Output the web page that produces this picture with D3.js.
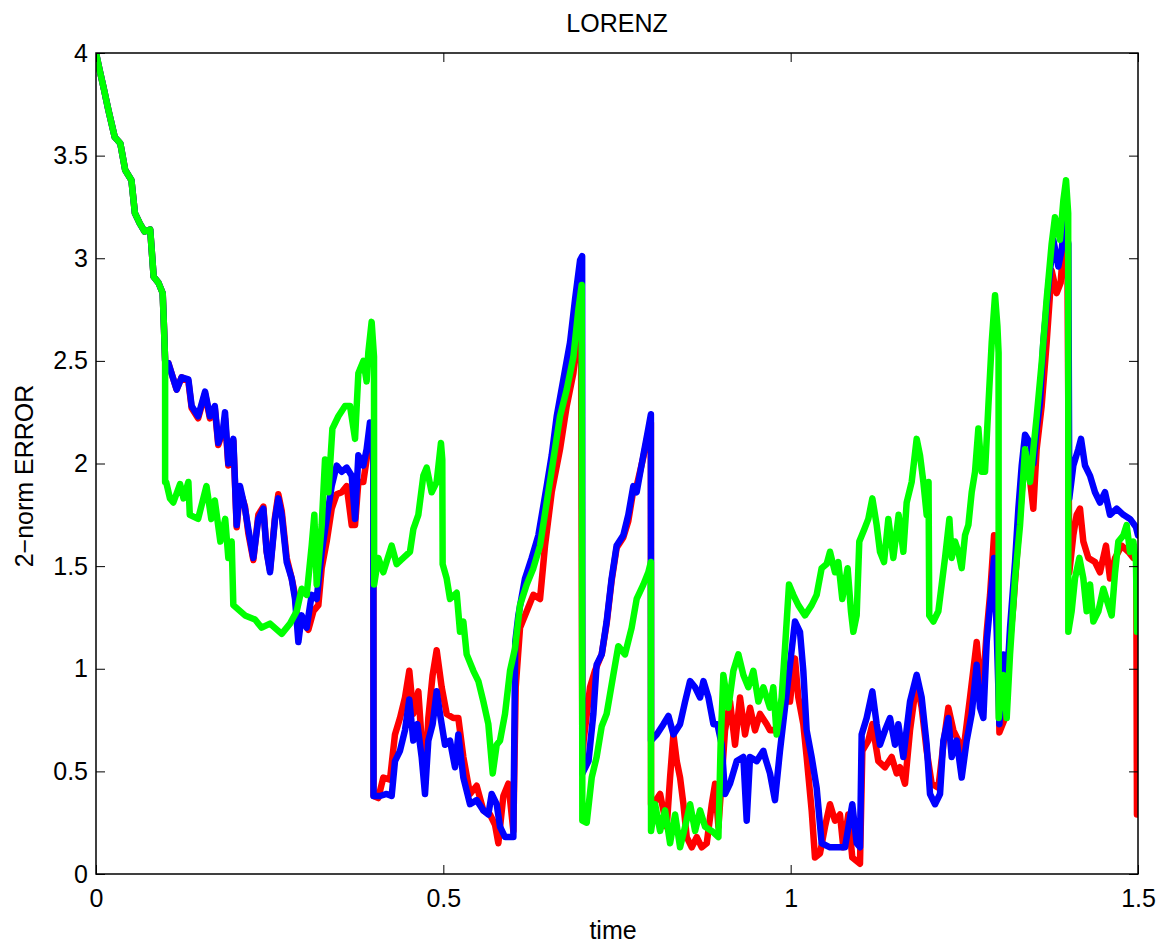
<!DOCTYPE html>
<html>
<head>
<meta charset="utf-8">
<script src="https://cdn.jsdelivr.net/npm/d3@7"></script>
<style>
  body { margin: 0; background: #fff; }
  svg text { font-family: "Liberation Sans", Arial, Helvetica, sans-serif; fill: #000; }
</style>
</head>
<body>
<svg id="chart" width="1173" height="944"></svg>
<script>
// shared start (all three series coincide until t = 0.1)
const decayT = [0, 0.005, 0.011, 0.018, 0.027, 0.035, 0.042, 0.051, 0.056, 0.063, 0.07, 0.078, 0.083, 0.09, 0.096, 0.098, 0.0995];
const decayV = [4.0, 3.92, 3.83, 3.72, 3.59, 3.56, 3.43, 3.38, 3.22, 3.17, 3.13, 3.14, 2.91, 2.88, 2.83, 2.65, 2.5];

const blueT = [0.1041, 0.1161, 0.1233, 0.133, 0.1377, 0.147, 0.157, 0.164, 0.171, 0.176, 0.183, 0.1857, 0.1905, 0.1977, 0.2025, 0.2073, 0.2145, 0.2193, 0.2265, 0.2337, 0.2409, 0.2457, 0.2505, 0.2577, 0.2625, 0.2673, 0.2745, 0.2817, 0.2865, 0.2913, 0.2961, 0.3033, 0.3105, 0.3177, 0.3249, 0.3321, 0.3393, 0.3465, 0.3537, 0.3609, 0.3681, 0.3729, 0.3777, 0.3848, 0.3896, 0.3944, 0.3992, 0.3995, 0.4088, 0.4184, 0.4256, 0.4304, 0.4376, 0.4448, 0.451, 0.4568, 0.4626, 0.4688, 0.4736, 0.4784, 0.4846, 0.4904, 0.4952, 0.5024, 0.5096, 0.5168, 0.5216, 0.5288, 0.5384, 0.548, 0.5576, 0.5648, 0.5696, 0.5768, 0.5816, 0.5888, 0.6008, 0.6022, 0.6035, 0.608, 0.6176, 0.6272, 0.6368, 0.6488, 0.656, 0.6632, 0.6728, 0.6824, 0.6896, 0.6968, 0.6998, 0.7001, 0.709, 0.716, 0.7207, 0.728, 0.7351, 0.7423, 0.7495, 0.7591, 0.7663, 0.7735, 0.7783, 0.7879, 0.7951, 0.7988, 0.799, 0.8072, 0.8168, 0.824, 0.8312, 0.8408, 0.848, 0.8552, 0.8624, 0.8696, 0.8744, 0.8816, 0.8888, 0.8945, 0.9007, 0.9055, 0.9127, 0.9223, 0.9319, 0.9367, 0.9415, 0.9511, 0.9607, 0.963, 0.9702, 0.9774, 0.9846, 0.9918, 0.999, 1.0062, 1.0134, 1.0182, 1.023, 1.0302, 1.0374, 1.0446, 1.0566, 1.0686, 1.0782, 1.0887, 1.095, 1.0998, 1.1022, 1.1094, 1.1176, 1.1238, 1.1286, 1.1358, 1.143, 1.1502, 1.155, 1.1622, 1.1718, 1.1814, 1.1886, 1.1958, 1.2006, 1.2078, 1.215, 1.2198, 1.227, 1.2318, 1.239, 1.2462, 1.2534, 1.2606, 1.2678, 1.2726, 1.2774, 1.2822, 1.287, 1.2928, 1.2966, 1.3005, 1.3062, 1.311, 1.3158, 1.323, 1.3278, 1.3326, 1.3374, 1.3446, 1.3494, 1.3542, 1.3589, 1.3637, 1.3709, 1.3781, 1.3853, 1.3901, 1.394, 1.3997, 1.4011, 1.4069, 1.4141, 1.418, 1.4237, 1.431, 1.4381, 1.4453, 1.4525, 1.4597, 1.4693, 1.479, 1.4885, 1.4971, 1.5];
const blueV = [2.49, 2.36, 2.42, 2.41, 2.28, 2.23, 2.35, 2.23, 2.28, 2.10, 2.17, 2.25, 2.0, 2.12, 1.70, 1.89, 1.78, 1.68, 1.54, 1.73, 1.78, 1.57, 1.47, 1.73, 1.83, 1.75, 1.52, 1.44, 1.34, 1.13, 1.26, 1.20, 1.36, 1.34, 1.57, 1.73, 1.89, 1.99, 1.96, 1.98, 1.94, 1.73, 2.04, 1.99, 2.07, 2.20, 2.02, 0.38, 0.38, 0.39, 0.38, 0.55, 0.60, 0.70, 0.85, 0.65, 0.73, 0.57, 0.39, 0.65, 0.73, 0.89, 0.78, 0.63, 0.65, 0.52, 0.68, 0.47, 0.34, 0.36, 0.31, 0.29, 0.39, 0.34, 0.23, 0.18, 0.18, 0.68, 1.13, 1.26, 1.44, 1.54, 1.65, 1.89, 2.04, 2.23, 2.41, 2.59, 2.80, 2.99, 3.01, 0.49, 0.55, 0.78, 1.02, 1.07, 1.23, 1.44, 1.60, 1.65, 1.75, 1.89, 1.86, 2.04, 2.17, 2.24, 0.65, 0.68, 0.73, 0.77, 0.68, 0.73, 0.84, 0.94, 0.91, 0.86, 0.94, 0.86, 0.73, 0.73, 0.63, 0.39, 0.44, 0.55, 0.57, 0.26, 0.57, 0.55, 0.60, 0.57, 0.49, 0.36, 0.60, 0.81, 1.02, 1.23, 1.18, 0.99, 0.70, 0.57, 0.42, 0.15, 0.13, 0.13, 0.13, 0.34, 0.15, 0.13, 0.68, 0.76, 0.89, 0.73, 0.63, 0.70, 0.76, 0.63, 0.73, 0.57, 0.84, 0.97, 0.86, 0.63, 0.39, 0.34, 0.39, 0.65, 0.76, 0.57, 0.65, 0.47, 0.65, 0.78, 1.02, 0.81, 0.76, 1.13, 1.31, 1.54, 1.18, 0.73, 1.07, 0.91, 1.20, 1.52, 1.78, 1.99, 2.14, 2.10, 2.0, 2.17, 2.30, 2.59, 2.86, 3.09, 2.96, 3.04, 3.17, 3.07, 1.83, 1.99, 2.07, 2.12, 1.99, 1.94, 1.86, 1.81, 1.86, 1.75, 1.78, 1.75, 1.73, 1.69, 1.65];

const redT = [0.1041, 0.1161, 0.1233, 0.133, 0.1377, 0.147, 0.157, 0.164, 0.171, 0.176, 0.183, 0.1857, 0.1905, 0.1977, 0.2025, 0.2073, 0.2145, 0.2193, 0.2265, 0.2337, 0.2409, 0.2457, 0.2505, 0.2577, 0.2625, 0.2673, 0.2745, 0.2817, 0.2865, 0.2913, 0.2985, 0.3057, 0.3129, 0.3201, 0.3249, 0.3321, 0.3393, 0.3465, 0.3537, 0.3609, 0.3681, 0.3729, 0.3777, 0.3848, 0.3896, 0.3944, 0.3992, 0.3995, 0.4064, 0.4136, 0.4232, 0.4304, 0.4376, 0.4448, 0.451, 0.4568, 0.464, 0.4688, 0.4736, 0.4784, 0.4846, 0.4904, 0.4976, 0.5048, 0.5144, 0.5216, 0.5288, 0.5384, 0.548, 0.5576, 0.5672, 0.5744, 0.5792, 0.5864, 0.5936, 0.6008, 0.6042, 0.6104, 0.62, 0.6296, 0.6392, 0.6464, 0.656, 0.668, 0.6776, 0.6872, 0.6944, 0.6982, 0.7001, 0.702, 0.7112, 0.7183, 0.728, 0.7351, 0.7423, 0.7495, 0.7591, 0.7663, 0.7735, 0.7783, 0.7879, 0.7951, 0.7988, 0.799, 0.8024, 0.812, 0.8216, 0.8264, 0.8312, 0.836, 0.8408, 0.8456, 0.8504, 0.8576, 0.8648, 0.872, 0.8792, 0.8864, 0.8912, 0.896, 0.8993, 0.9055, 0.9127, 0.9199, 0.9271, 0.9343, 0.9415, 0.9487, 0.9559, 0.9655, 0.9702, 0.9774, 0.9846, 0.9918, 0.999, 1.0062, 1.011, 1.0182, 1.023, 1.0302, 1.035, 1.0422, 1.0494, 1.0566, 1.0638, 1.071, 1.0758, 1.083, 1.0887, 1.0998, 1.1032, 1.1118, 1.1176, 1.1262, 1.1358, 1.1454, 1.1526, 1.1574, 1.1646, 1.1718, 1.1814, 1.1886, 1.1958, 1.203, 1.2126, 1.2198, 1.227, 1.2342, 1.2414, 1.2486, 1.2582, 1.2678, 1.275, 1.2822, 1.287, 1.2928, 1.2976, 1.3005, 1.3086, 1.3134, 1.3206, 1.3278, 1.335, 1.3422, 1.3493, 1.3541, 1.3613, 1.3685, 1.3757, 1.3829, 1.3886, 1.394, 1.3983, 1.4011, 1.4069, 1.4117, 1.4165, 1.4213, 1.4285, 1.4381, 1.4453, 1.4539, 1.4597, 1.467, 1.4765, 1.4861, 1.4933, 1.4975, 1.4985];
const redV = [2.49, 2.36, 2.42, 2.40, 2.27, 2.22, 2.34, 2.22, 2.27, 2.09, 2.16, 2.22, 1.99, 2.11, 1.69, 1.87, 1.79, 1.66, 1.53, 1.75, 1.79, 1.57, 1.48, 1.74, 1.85, 1.77, 1.54, 1.44, 1.36, 1.20, 1.23, 1.19, 1.28, 1.31, 1.49, 1.62, 1.78, 1.85, 1.86, 1.89, 1.70, 1.70, 1.91, 1.91, 2.02, 2.15, 2.04, 0.38, 0.37, 0.47, 0.46, 0.68, 0.76, 0.86, 0.99, 0.78, 0.89, 0.65, 0.44, 0.76, 0.97, 1.09, 0.91, 0.78, 0.76, 0.76, 0.57, 0.39, 0.43, 0.31, 0.29, 0.24, 0.15, 0.38, 0.44, 0.21, 0.91, 1.20, 1.28, 1.36, 1.34, 1.60, 1.86, 2.07, 2.28, 2.44, 2.65, 2.67, 0.55, 0.65, 0.91, 0.99, 1.07, 1.22, 1.43, 1.59, 1.64, 1.72, 1.87, 1.89, 2.03, 2.15, 2.2, 0.34, 0.34, 0.39, 0.23, 0.47, 0.68, 0.55, 0.47, 0.34, 0.18, 0.13, 0.18, 0.13, 0.15, 0.34, 0.44, 0.23, 0.39, 0.70, 0.84, 0.63, 0.86, 0.68, 0.81, 0.70, 0.78, 0.73, 0.70, 0.70, 0.78, 0.84, 0.84, 1.05, 0.86, 0.73, 0.57, 0.31, 0.08, 0.10, 0.23, 0.34, 0.26, 0.29, 0.13, 0.29, 0.08, 0.05, 0.60, 0.65, 0.73, 0.55, 0.52, 0.57, 0.49, 0.52, 0.44, 0.70, 0.94, 0.81, 0.60, 0.44, 0.42, 0.63, 0.81, 0.70, 0.65, 0.60, 0.86, 1.13, 0.84, 1.18, 1.36, 1.65, 1.31, 0.69, 0.76, 1.05, 1.31, 1.65, 1.96, 1.99, 1.78, 2.07, 2.28, 2.59, 2.94, 2.83, 2.88, 3.12, 3.04, 1.47, 1.65, 1.75, 1.78, 1.62, 1.54, 1.52, 1.47, 1.60, 1.44, 1.54, 1.60, 1.57, 1.54, 1.54, 0.29];

const greenT = [0.0995, 0.101, 0.1065, 0.1113, 0.121, 0.126, 0.133, 0.135, 0.147, 0.159, 0.166, 0.171, 0.179, 0.186, 0.1905, 0.1953, 0.1977, 0.2145, 0.2289, 0.2385, 0.2505, 0.2673, 0.2793, 0.2889, 0.2961, 0.3033, 0.3105, 0.3143, 0.3177, 0.3249, 0.3297, 0.3345, 0.3403, 0.3489, 0.3585, 0.3657, 0.3729, 0.3777, 0.3849, 0.3896, 0.392, 0.3968, 0.4002, 0.4004, 0.4064, 0.4136, 0.4256, 0.4328, 0.4424, 0.452, 0.4568, 0.464, 0.4712, 0.476, 0.4832, 0.4904, 0.4966, 0.4985, 0.499, 0.5048, 0.5096, 0.5192, 0.524, 0.5288, 0.5336, 0.5432, 0.5504, 0.5576, 0.5648, 0.5711, 0.5768, 0.5816, 0.5888, 0.596, 0.6032, 0.6104, 0.62, 0.6296, 0.6392, 0.6488, 0.6584, 0.668, 0.6776, 0.6872, 0.6944, 0.6992, 0.7001, 0.7064, 0.7136, 0.7207, 0.728, 0.7351, 0.7447, 0.7519, 0.7615, 0.7711, 0.7783, 0.7879, 0.7951, 0.7988, 0.799, 0.8048, 0.812, 0.8192, 0.8264, 0.8336, 0.8408, 0.848, 0.8552, 0.8624, 0.8696, 0.8768, 0.8864, 0.896, 0.8993, 0.9031, 0.9103, 0.9175, 0.9247, 0.9319, 0.9391, 0.9463, 0.9535, 0.9607, 0.9702, 0.975, 0.9798, 0.987, 0.9918, 0.9976, 1.0038, 1.011, 1.0206, 1.0302, 1.0374, 1.0446, 1.0518, 1.0566, 1.0638, 1.0686, 1.0743, 1.082, 1.0868, 1.0902, 1.095, 1.0988, 1.106, 1.1118, 1.1176, 1.1238, 1.1286, 1.1344, 1.1406, 1.1478, 1.1554, 1.1622, 1.167, 1.1742, 1.1814, 1.1862, 1.191, 1.1958, 1.1985, 1.1995, 1.2054, 1.2126, 1.2174, 1.2222, 1.2285, 1.2318, 1.2366, 1.2414, 1.2462, 1.251, 1.2558, 1.2606, 1.2654, 1.2702, 1.275, 1.2798, 1.2846, 1.2894, 1.2942, 1.2976, 1.2993, 1.2995, 1.3062, 1.311, 1.3158, 1.323, 1.3302, 1.3374, 1.3446, 1.3494, 1.3542, 1.3613, 1.3685, 1.3757, 1.3805, 1.3877, 1.3925, 1.3964, 1.3995, 1.3997, 1.4045, 1.4093, 1.4156, 1.4213, 1.4261, 1.431, 1.4357, 1.443, 1.4501, 1.4573, 1.4621, 1.467, 1.4717, 1.479, 1.4837, 1.4885, 1.4933, 1.4971, 1.4985];
const greenV = [1.91, 1.91, 1.83, 1.81, 1.90, 1.83, 1.91, 1.75, 1.73, 1.89, 1.73, 1.82, 1.62, 1.73, 1.54, 1.62, 1.31, 1.26, 1.24, 1.20, 1.22, 1.17, 1.22, 1.28, 1.39, 1.36, 1.60, 1.75, 1.41, 1.70, 2.02, 1.86, 2.17, 2.23, 2.28, 2.28, 2.12, 2.44, 2.50, 2.40, 2.54, 2.69, 2.52, 1.41, 1.54, 1.47, 1.60, 1.51, 1.54, 1.57, 1.68, 1.75, 1.94, 1.98, 1.86, 1.91, 2.10, 2.02, 1.51, 1.44, 1.34, 1.37, 1.18, 1.23, 1.07, 0.99, 0.94, 0.84, 0.73, 0.49, 0.63, 0.65, 0.78, 0.99, 1.10, 1.31, 1.41, 1.49, 1.60, 1.81, 2.02, 2.23, 2.36, 2.52, 2.75, 2.87, 0.26, 0.25, 0.47, 0.57, 0.72, 0.78, 0.97, 1.11, 1.07, 1.20, 1.34, 1.41, 1.47, 1.52, 0.21, 0.34, 0.21, 0.31, 0.15, 0.29, 0.13, 0.23, 0.34, 0.21, 0.31, 0.23, 0.21, 0.18, 0.65, 0.97, 0.81, 0.99, 1.07, 0.97, 0.91, 0.99, 0.84, 0.91, 0.81, 0.91, 0.68, 0.86, 1.10, 1.41, 1.36, 1.31, 1.26, 1.31, 1.36, 1.49, 1.51, 1.57, 1.47, 1.52, 1.34, 1.49, 1.28, 1.18, 1.26, 1.62, 1.68, 1.73, 1.83, 1.70, 1.57, 1.52, 1.73, 1.54, 1.75, 1.57, 1.81, 1.91, 2.12, 2.04, 1.91, 1.75, 1.91, 1.26, 1.23, 1.28, 1.41, 1.54, 1.73, 1.54, 1.62, 1.57, 1.49, 1.65, 1.70, 1.86, 1.96, 2.17, 1.96, 1.96, 2.28, 2.59, 2.82, 2.67, 2.54, 0.76, 0.97, 0.76, 1.07, 1.44, 1.70, 2.07, 1.91, 2.07, 2.23, 2.49, 2.80, 3.07, 3.20, 3.09, 3.28, 3.38, 3.22, 1.18, 1.28, 1.44, 1.54, 1.44, 1.28, 1.41, 1.23, 1.28, 1.39, 1.31, 1.26, 1.47, 1.62, 1.65, 1.70, 1.57, 1.62, 1.52, 1.18];

const xTicks = [0, 0.5, 1, 1.5];
const yTicks = [0, 0.5, 1, 1.5, 2, 2.5, 3, 3.5, 4];

const svg = d3.select("#chart");
const plotL = 96, plotR = 1138, plotT = 53, plotB = 874;

const x = d3.scaleLinear().domain([0, 1.5]).range([plotL, plotR]);
const y = d3.scaleLinear().domain([0, 4]).range([plotB, plotT]);

function toPoints(ts, vs) {
  return ts.map((t, i) => [t, vs[i]]);
}

const series = [
  { color: "#ff0000", pts: toPoints(decayT, decayV).concat(toPoints(redT, redV)) },
  { color: "#0000ff", pts: toPoints(decayT, decayV).concat(toPoints(blueT, blueV)) },
  { color: "#00ff00", pts: toPoints(decayT, decayV).concat(toPoints(greenT, greenV)) }
];

svg.append("clipPath").attr("id", "plotclip")
  .append("rect")
  .attr("x", plotL).attr("y", plotT)
  .attr("width", plotR - plotL).attr("height", plotB - plotT);

const line = d3.line().x(d => x(d[0])).y(d => y(d[1]));

svg.append("g")
  .attr("clip-path", "url(#plotclip)")
  .selectAll("path")
  .data(series)
  .enter()
  .append("path")
  .attr("d", d => line(d.pts))
  .attr("fill", "none")
  .attr("stroke", d => d.color)
  .attr("stroke-width", 6.5)
  .attr("stroke-linejoin", "round")
  .attr("stroke-linecap", "round");

// axes, ticks pointing inward on all four sides
const styleAxis = g => {
  g.select(".domain").remove();
  g.selectAll(".tick line").attr("stroke", "#000").attr("stroke-width", 1);
  g.selectAll(".tick text").style("font-size", "25px").attr("fill", "#000");
};

svg.append("g")
  .attr("transform", `translate(0,${plotB})`)
  .call(d3.axisBottom(x).tickValues(xTicks).tickFormat(d => d).tickSize(-9).tickPadding(15))
  .call(styleAxis);
svg.append("g")
  .attr("transform", `translate(0,${plotT})`)
  .call(d3.axisTop(x).tickValues(xTicks).tickFormat(() => "").tickSize(-9))
  .call(styleAxis);
svg.append("g")
  .attr("transform", `translate(${plotL},0)`)
  .call(d3.axisLeft(y).tickValues(yTicks).tickFormat(d => d).tickSize(-9).tickPadding(8))
  .call(styleAxis);
svg.append("g")
  .attr("transform", `translate(${plotR},0)`)
  .call(d3.axisRight(y).tickValues(yTicks).tickFormat(() => "").tickSize(-9))
  .call(styleAxis);

svg.append("rect")
  .attr("x", plotL).attr("y", plotT)
  .attr("width", plotR - plotL).attr("height", plotB - plotT)
  .attr("fill", "none").attr("stroke", "#000").attr("stroke-width", 1.5);

svg.append("text")
  .attr("x", (plotL + plotR) / 2).attr("y", 32)
  .attr("text-anchor", "middle").style("font-size", "25px")
  .text("LORENZ");

svg.append("text")
  .attr("x", (plotL + plotR) / 2 - 4).attr("y", 939)
  .attr("text-anchor", "middle").style("font-size", "25px")
  .text("time");

svg.append("text")
  .attr("transform", "translate(33,476) rotate(-90)")
  .attr("text-anchor", "middle").style("font-size", "25px")
  .text("2\u2212norm ERROR");
</script>
</body>
</html>
